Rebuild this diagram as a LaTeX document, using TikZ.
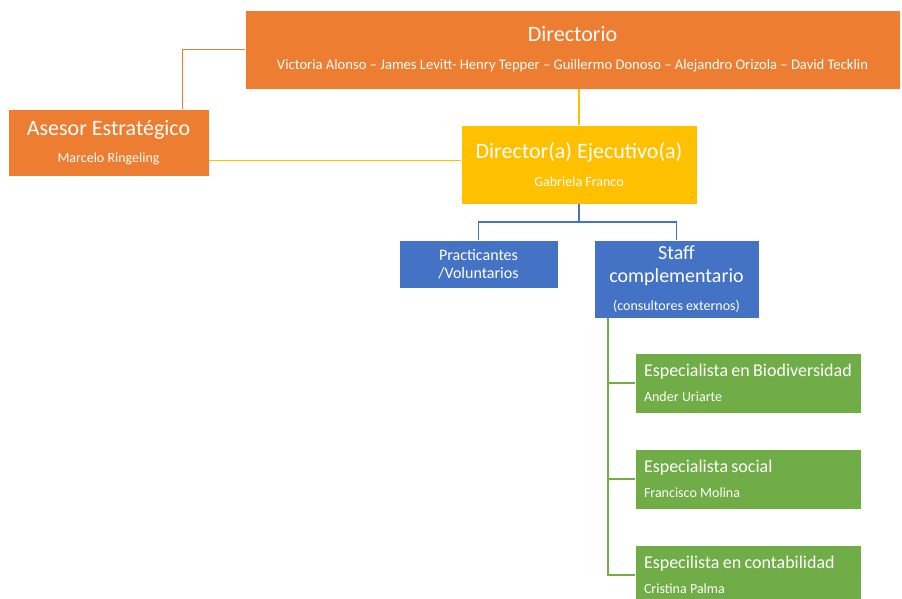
\documentclass[tikz,border=0pt]{standalone}
\usepackage{fontspec}
\setmainfont{Carlito}
\usetikzlibrary{positioning}
\definecolor{orgc}{HTML}{ED7D31}
\definecolor{yelc}{HTML}{FFC000}
\definecolor{bluc}{HTML}{4472C4}
\definecolor{grnc}{HTML}{70AD47}
\begin{document}
\begin{tikzpicture}[x=1pt,y=-1pt,
  box/.style={draw=white,line width=0.6pt,text=white,align=center,inner sep=0pt},
  org box/.style={box,fill=orgc},
  yel box/.style={box,fill=yelc},
  blu box/.style={box,fill=bluc},
  grn box/.style={box,fill=grnc,align=left,text width=208pt,inner xsep=9pt,minimum height=60pt},
  conn/.style={line width=1.8pt}]

  \useasboundingbox (0,0) rectangle (902,598);

  \node[org box,minimum width=655pt,minimum height=79pt] (dir) at (572.5,49.5)
    {{\fontsize{22}{26}\selectfont Directorio}\\[16pt]
     {\fontsize{14.6}{17}\selectfont Victoria Alonso – James Levitt- Henry Tepper – Guillermo Donoso – Alejandro Orizola – David Tecklin}};
  \node[org box,minimum width=201pt,minimum height=67pt] (ase) at (108.5,142.5)
    {{\fontsize{22}{26}\selectfont Asesor Estratégico}\\[12pt]
     {\fontsize{14}{17}\selectfont Marcelo Ringeling}};
  \node[yel box,minimum width=236pt,minimum height=79pt] (eje) at (579,164.5)
    {{\fontsize{22}{26}\selectfont Director(a) Ejecutivo(a)}\\[13pt]
     {\fontsize{14}{17}\selectfont Gabriela Franco}};
  \node[blu box,minimum width=159pt,minimum height=48pt,font=\fontsize{16}{18}\selectfont] (pra) at (478.5,264)
    {Practicantes\\/Voluntarios};
  \node[blu box,minimum width=165pt,minimum height=78pt] (sta) at (676.5,279)
    {{\fontsize{20}{23}\selectfont Staff}\\[8pt]{\fontsize{20}{23}\selectfont complementario}\\[13pt]
     {\fontsize{14}{17}\selectfont (consultores externos)}};

  \node[grn box] (bio) at (748,383)
    {{\fontsize{18}{21}\selectfont Especialista en Biodiversidad}\\[11pt]
     {\fontsize{14}{17}\selectfont Ander Uriarte}};
  \node[grn box] (soc) at (748,479)
    {{\fontsize{18}{21}\selectfont Especialista social}\\[11pt]
     {\fontsize{14}{17}\selectfont Francisco Molina}};
  \node[grn box] (con) at (748,575)
    {{\fontsize{18}{21}\selectfont Especilista en contabilidad}\\[11pt]
     {\fontsize{14}{17}\selectfont Cristina Palma}};

  % connectors
  \draw[conn,orgc] (dir.west) -| ([xshift=74pt]ase.north);
  \draw[conn,yelc] (eje.north |- dir.south) -- (eje.north);
  \draw[conn,yelc] ([yshift=-18pt]ase.east) -- ([yshift=-18pt]ase.east -| eje.west);
  \draw[conn,bluc] (eje.south) -- ++(0,18) -| (pra.north);
  \draw[conn,bluc] (eje.south) -- ++(0,18) -| (sta.north);
  \coordinate (gtop) at ([xshift=14pt]sta.south west);
  \draw[conn,grnc] (gtop) |- (bio.west);
  \draw[conn,grnc] (gtop) |- (soc.west);
  \draw[conn,grnc] (gtop) |- (con.west);
\end{tikzpicture}
\end{document}
